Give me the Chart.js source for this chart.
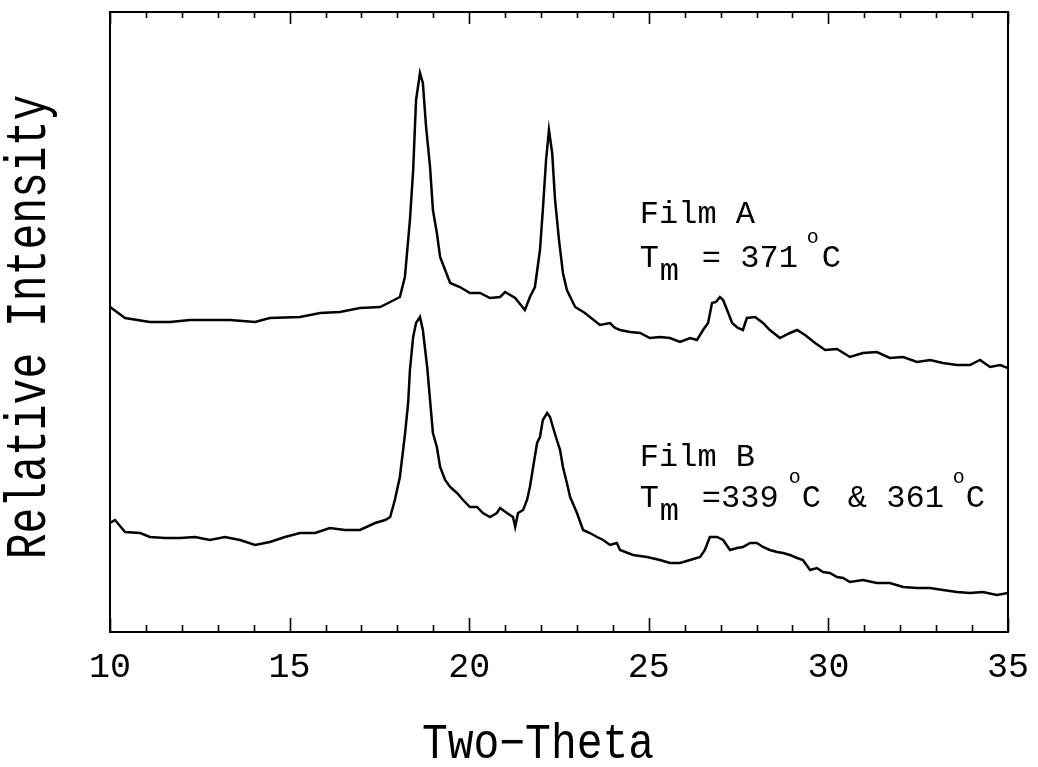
<!DOCTYPE html>
<html>
<head>
<meta charset="utf-8">
<script src="https://cdn.jsdelivr.net/npm/chart.js@4.4.1/dist/chart.umd.min.js"></script>
<style>
  html, body { margin: 0; padding: 0; background: #fff; }
  #wrap { width: 1038px; height: 767px; }
</style>
</head>
<body>
<div id="wrap"><canvas id="xrd"></canvas></div>
<script>
// Two-theta positions and relative intensity
const filmAx = [10.00, 10.42, 11.11, 11.67, 12.23, 13.34, 14.04, 14.45, 15.29, 15.85, 16.40, 16.96, 17.52, 17.80,
  18.07, 18.21, 18.35, 18.44, 18.52, 18.63, 18.71, 18.80, 18.91, 18.99, 19.10, 19.19, 19.33, 19.47, 19.74, 20.02,
  20.30, 20.58, 20.86, 21.00, 21.28, 21.55, 21.69, 21.83, 21.97, 22.05, 22.14, 22.22, 22.31, 22.39, 22.50, 22.61,
  22.72, 22.95, 23.22, 23.64, 23.92, 24.06, 24.20, 24.48, 24.76, 25.03, 25.31, 25.59, 25.87, 26.15, 26.34, 26.51,
  26.65, 26.76, 26.87, 26.98, 27.07, 27.18, 27.32, 27.48, 27.62, 27.73, 27.96, 28.18, 28.37, 28.65, 28.93, 29.13,
  29.35, 29.63, 29.91, 30.24, 30.60, 30.96, 31.35, 31.71, 32.08, 32.47, 32.83, 33.19, 33.58, 33.94, 34.22, 34.50,
  34.78, 35.00];
const filmAy = [325, 314, 310, 310, 312, 312, 310, 314, 315, 319, 320, 324, 325, 330,
  335, 355, 412, 462, 532, 559, 549, 505, 465, 422, 399, 375, 362, 349, 345, 339,
  339, 334, 335, 340, 334, 322, 335, 345, 382, 422, 472, 502, 479, 432, 392, 359,
  342, 325, 319, 307, 309, 304, 302, 300, 299, 294, 295, 294, 290, 294, 292, 302,
  309, 329, 330, 335, 332, 322, 309, 304, 302, 314, 315, 309, 302, 294, 299, 302,
  297, 289, 282, 283, 275, 279, 280, 274, 275, 270, 272, 269, 267, 267, 272, 265,
  267, 264];

const filmBx = [10.00, 10.14, 10.42, 10.84, 11.11, 11.53, 11.95, 12.37, 12.78, 13.20, 13.62, 14.04, 14.45, 14.87,
  15.29, 15.71, 16.12, 16.54, 16.96, 17.38, 17.66, 17.80, 17.93, 18.07, 18.21, 18.30, 18.35, 18.44, 18.52, 18.63,
  18.71, 18.83, 18.91, 18.99, 19.10, 19.19, 19.33, 19.47, 19.66, 19.83, 20.02, 20.22, 20.38, 20.58, 20.77, 20.86,
  21.05, 21.22, 21.28, 21.36, 21.50, 21.61, 21.69, 21.78, 21.89, 21.97, 22.05, 22.17, 22.25, 22.33, 22.44, 22.53,
  22.61, 22.72, 22.81, 23.00, 23.17, 23.36, 23.56, 23.73, 23.92, 24.11, 24.20, 24.56, 24.95, 25.31, 25.59, 25.87,
  26.15, 26.43, 26.56, 26.70, 26.90, 27.07, 27.26, 27.46, 27.62, 27.82, 28.01, 28.18, 28.37, 28.57, 28.74, 28.93,
  29.13, 29.29, 29.49, 29.68, 29.85, 30.04, 30.24, 30.41, 30.60, 30.96, 31.35, 31.71, 32.08, 32.47, 32.83, 33.19,
  33.58, 33.94, 34.30, 34.69, 35.00];
const filmBy = [109, 112, 100, 99, 95, 94, 94, 95, 92, 95, 92, 87, 90, 95,
  99, 99, 104, 102, 102, 109, 112, 115, 132, 155, 197, 229, 262, 295, 309, 315,
  302, 265, 232, 199, 185, 165, 152, 145, 139, 132, 125, 125, 119, 115, 119, 124,
  119, 115, 105, 119, 122, 132, 145, 165, 189, 195, 212, 219, 215, 205, 192, 182,
  165, 149, 135, 119, 102, 99, 95, 92, 87, 89, 82, 77, 75, 72, 69, 69,
  72, 75, 82, 95, 95, 92, 82, 84, 85, 89, 89, 85, 82, 80, 79, 77,
  74, 72, 62, 64, 60, 59, 55, 54, 50, 52, 49, 49, 45, 44, 44, 42,
  40, 39, 40, 37, 39];

const majorTicks = [10, 15, 20, 25, 30, 35];
const minorTicks = [11, 12, 13, 14, 16, 17, 18, 19, 21, 22, 23, 24, 26, 27, 28, 29, 31, 32, 33, 34];

const FONT = '"Liberation Mono", "DejaVu Sans Mono", monospace';

function toPoints(xs, ys) {
  return xs.map((x, i) => ({ x: x, y: ys[i] }));
}

// frame, inward ticks, axis titles and the film labels
const framePlugin = {
  id: 'frame',
  afterDraw(chart) {
    const { ctx, chartArea: a, scales } = chart;
    ctx.save();
    ctx.strokeStyle = '#000';
    ctx.lineWidth = 2;
    ctx.strokeRect(a.left, a.top, a.right - a.left, a.bottom - a.top);

    ctx.beginPath();
    majorTicks.forEach(v => {
      const px = Math.round(scales.x.getPixelForValue(v)) + 0.5;
      ctx.moveTo(px, a.bottom); ctx.lineTo(px, a.bottom - 14);
      ctx.moveTo(px, a.top); ctx.lineTo(px, a.top + 12);
    });
    minorTicks.forEach(v => {
      const px = Math.round(scales.x.getPixelForValue(v)) + 0.5;
      ctx.moveTo(px, a.bottom); ctx.lineTo(px, a.bottom - 7);
      ctx.moveTo(px, a.top); ctx.lineTo(px, a.top + 6);
    });
    ctx.lineWidth = 1.6;
    ctx.stroke();

    ctx.fillStyle = '#000';
    ctx.textBaseline = 'alphabetic';

    // axis titles, a little taller than the font draws them
    ctx.save();
    ctx.font = '43px ' + FONT;
    ctx.textAlign = 'center';
    ctx.translate(538, 758);
    ctx.scale(1, 1.15);
    ctx.fillText('Two\u2212Theta', 0, 0);
    ctx.restore();

    ctx.save();
    ctx.font = '43px ' + FONT;
    ctx.textAlign = 'center';
    ctx.translate(45, 327);
    ctx.rotate(-Math.PI / 2);
    ctx.scale(1, 1.35);
    ctx.fillText('Relative Intensity', 0, 0);
    ctx.restore();

    const put = (t, x, y, size) => {
      ctx.font = size + 'px ' + FONT;
      ctx.fillText(t, x, y);
    };
    const x0 = scales.x.getPixelForValue(24.75);

    // Film A
    let y1 = scales.y.getPixelForValue(409);
    put('Film A', x0, y1, 32);
    let y2 = y1 + 44;
    put('T', x0, y2, 32);
    put('m', x0 + 20, y2 + 13, 32);
    put('= 371', x0 + 62, y2, 32);
    put('o', x0 + 167, y2 - 24, 20);
    put('C', x0 + 182, y2, 32);

    // Film B
    y1 = scales.y.getPixelForValue(166);
    put('Film B', x0, y1, 32);
    y2 = y1 + 41;
    put('T', x0, y2, 32);
    put('m', x0 + 20, y2 + 13, 32);
    put('=339', x0 + 62, y2, 32);
    put('o', x0 + 149, y2 - 24, 20);
    put('C', x0 + 162, y2, 32);
    put('& 361', x0 + 208, y2, 32);
    put('o', x0 + 313, y2 - 24, 20);
    put('C', x0 + 326, y2, 32);
    ctx.restore();
  }
};

new Chart(document.getElementById('xrd'), {
  type: 'line',
  data: {
    datasets: [
      { label: 'Film A', data: toPoints(filmAx, filmAy), borderColor: '#000', borderWidth: 2.5, pointRadius: 0, tension: 0, fill: false },
      { label: 'Film B', data: toPoints(filmBx, filmBy), borderColor: '#000', borderWidth: 2.5, pointRadius: 0, tension: 0, fill: false }
    ]
  },
  options: {
    responsive: true,
    maintainAspectRatio: false,
    animation: false,
    events: [],
    layout: { padding: { left: 0, right: 30, top: 12, bottom: 0 } },
    plugins: { legend: { display: false }, tooltip: { enabled: false } },
    scales: {
      x: {
        type: 'linear',
        min: 10, max: 35,
        afterBuildTicks: s => { s.ticks = majorTicks.map(v => ({ value: v })); },
        afterFit: s => { s.height = 135; s.paddingLeft = 0; s.paddingRight = 0; },
        grid: { display: false, drawTicks: false },
        border: { display: false },
        ticks: { color: '#000', padding: 15, maxRotation: 0, font: { family: FONT, size: 35 } },
        title: { display: false }
      },
      y: {
        min: 0, max: 620,
        afterFit: s => { s.width = 110; s.paddingTop = 0; s.paddingBottom = 0; },
        grid: { display: false, drawTicks: false },
        border: { display: false },
        ticks: { display: false },
        title: { display: false }
      }
    }
  },
  plugins: [framePlugin]
});
</script>
</body>
</html>
